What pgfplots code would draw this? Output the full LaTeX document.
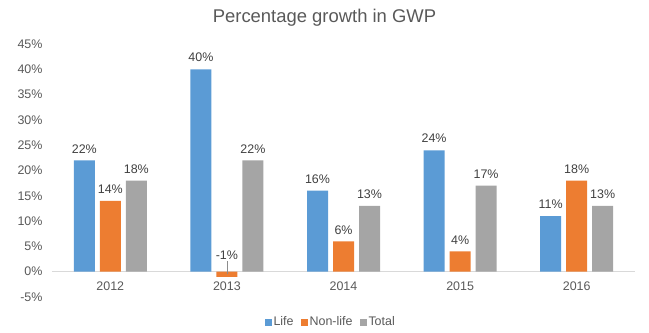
\documentclass[border=0pt]{standalone}
\usepackage{pgfplots}
\pgfplotsset{compat=1.18}
\usepackage{fontspec}
\setmainfont{Liberation Sans}
\definecolor{cLife}{HTML}{5B9BD5}
\definecolor{cNon}{HTML}{ED7D31}
\definecolor{cTot}{HTML}{A5A5A5}
\definecolor{tickc}{HTML}{595959}
\definecolor{labc}{HTML}{404040}
\begin{document}
\begin{tikzpicture}
\useasboundingbox (0,0) rectangle (649bp,333bp);
\node[text=tickc, font=\fontsize{18.5}{20}\selectfont] at (324.5bp,315bp) {Percentage growth in GWP};
\begin{axis}[
  at={(52bp,36bp)}, anchor=south west,
  scale only axis, width=583bp, height=253bp,
  ybar=5bp, bar width=21bp,
  xmin=-0.5, xmax=4.5, ymin=-5, ymax=45,
  xtick={0,1,2,3,4}, xticklabels={2012,2013,2014,2015,2016},
  ytick={-5,0,5,10,15,20,25,30,35,40,45},
  yticklabel={\pgfmathprintnumber{\tick}\%},
  /pgf/number format/assume math mode=true,
  axis x line*=middle, axis y line*=left,
  x axis line style={draw=black!15, line width=0.8bp},
  y axis line style={draw=none},
  major tick length=0pt,
  tick label style={text=tickc, font=\fontsize{12.5}{14}\selectfont},
  yticklabel style={xshift=-6bp},
  xticklabel style={yshift=-7bp},
  nodes near coords={\pgfmathprintnumber{\pgfplotspointmeta}\%},
  every node near coord/.append style={text=labc, font=\fontsize{12.5}{14}\selectfont, inner sep=3bp, yshift=4bp},
  legend columns=-1,
  legend style={draw=none, at={(0.478,-0.099)}, anchor=center, font=\fontsize{12.5}{14}\selectfont, text=tickc,
    /tikz/every even column/.append style={column sep=5bp}},
  legend image code/.code={\fill[#1] (0bp,-3.5bp) rectangle (7bp,3.5bp);},
]
\addplot[fill=cLife, draw=none] coordinates {(0,22) (1,40) (2,16) (3,24) (4,11)};
\addplot[fill=cNon, draw=none,
  visualization depends on={y \as \rawy},
  every node near coord/.append style={anchor=south, yshift={\rawy<0 ? 10 : 0}}]
  coordinates {(0,14) (1,-1) (2,6) (3,4) (4,18)};
\addplot[fill=cTot, draw=none] coordinates {(0,18) (1,22) (2,13) (3,17) (4,13)};
\draw[black!45, line width=0.6bp] (axis cs:1,-0.5) -- (axis cs:1,2.2);
\legend{Life,Non-life,Total}
\end{axis}
\end{tikzpicture}
\end{document}
